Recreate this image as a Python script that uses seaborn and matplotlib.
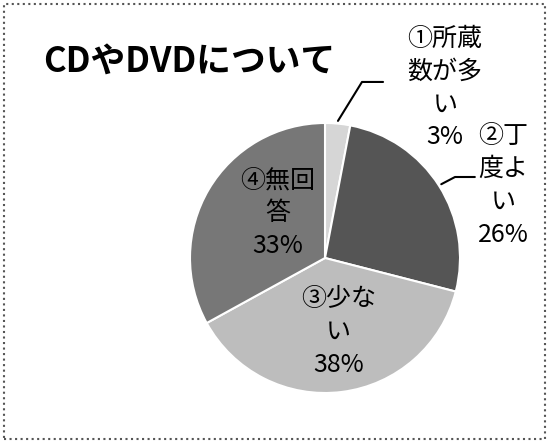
import numpy as np
import matplotlib
matplotlib.use("Agg")
import matplotlib.pyplot as plt
import seaborn as sns
from matplotlib.patches import Rectangle

# data
labels = ["①所蔵\n数が多\nい", "②丁\n度よ\nい", "③少な\nい", "④無回\n答"]
shares = [3, 26, 38, 33]
colors = ["#d6d6d6", "#555555", "#bdbdbd", "#777777"]

sns.set_theme(style="white")
plt.rcParams["font.family"] = ["Noto Sans CJK JP", "DejaVu Sans"]

fig = plt.figure(figsize=(5.5, 4.43), dpi=100)
ax = fig.add_axes([0, 0, 1, 1])

wedges, _ = ax.pie(shares, colors=colors, startangle=90, counterclock=False,
                   wedgeprops=dict(edgecolor="white", linewidth=1.5))

# 1 unit = 135 px, pie centre at (325, 258) px from top-left
ax.set_aspect("auto")
ax.set_xlim(-325 / 135, 225 / 135)
ax.set_ylim(-185 / 135, 258 / 135)
ax.axis("off")

# label positions (pie units) and optional leader-line elbows
text_pos = [(0.89, 1.26), (1.32, 0.54), (0.10, -0.55), (-0.35, 0.33)]
elbows = [[(0.274, 1.304), (0.43, 1.304)], [(0.963, 0.60), (1.11, 0.60)], None, None]

for w, lab, pct, pos, elb in zip(wedges, labels, shares, text_pos, elbows):
    ax.text(pos[0], pos[1], f"{lab}\n{pct}%", ha="center", va="center",
            multialignment="center", fontsize=18, linespacing=1.35, color="black")
    if elb:
        mid = np.deg2rad((w.theta1 + w.theta2) / 2)
        xs = [1.02 * np.cos(mid)] + [p[0] for p in elb]
        ys = [1.02 * np.sin(mid)] + [p[1] for p in elb]
        ax.plot(xs, ys, color="black", lw=1.5)

fig.text(43 / 550, 1 - 61 / 443, "CDやDVDについて", ha="left", va="center",
         fontsize=25, fontweight="bold", color="black")

fig.patches.append(Rectangle((4 / 550, 4 / 443), 541 / 550, 435 / 443,
                             transform=fig.transFigure, fill=False,
                             edgecolor="#555555", linestyle=":", linewidth=1.5))

fig.savefig("out.png", dpi=100)
